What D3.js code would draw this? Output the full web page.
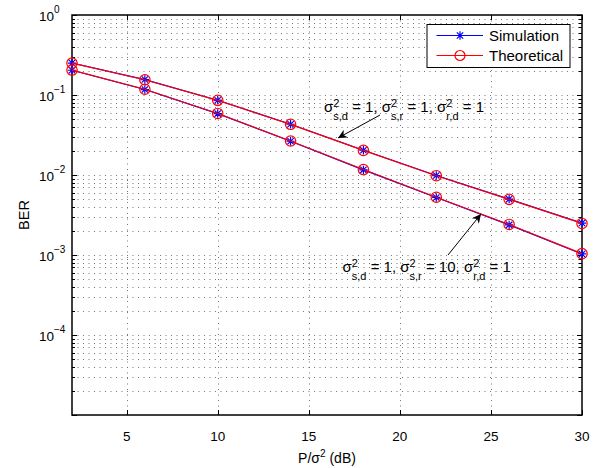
<!DOCTYPE html>
<html>
<head>
<meta charset="utf-8">
<script src="https://cdn.jsdelivr.net/npm/d3@7"></script>
<style>
  body { margin: 0; background: #fff; }
  text { font-family: "Liberation Sans", Arial, Helvetica, sans-serif; fill: #000; }
</style>
</head>
<body>
<div class="chart"></div>
<script>
// SNR points (dB)
const snr = [2, 6, 10, 14, 18, 22, 26, 30];

// sigma_sr^2 = 1
const simA = [0.251, 0.156, 0.0859, 0.0431, 0.0204, 0.00985, 0.00500, 0.00251];
const theoA = [0.250, 0.155, 0.0857, 0.0430, 0.0203, 0.00980, 0.00496, 0.00248];
// sigma_sr^2 = 10
const simB = [0.204, 0.117, 0.0586, 0.0264, 0.0116, 0.00524, 0.00238, 0.00103];
const theoB = [0.205, 0.118, 0.0588, 0.0266, 0.0117, 0.00527, 0.00241, 0.00104];

const xTicks = [5, 10, 15, 20, 25, 30];
const yExps = [0, -1, -2, -3, -4];

const margin = ({top: 15, right: 21, bottom: 53, left: 72});
const width = 603 - margin.left - margin.right;
const height = 468 - margin.top - margin.bottom;

const svg = d3.select('.chart').append('svg')
  .attr('width', 603)
  .attr('height', 468)
  .append('g')
  .attr('transform', `translate(${margin.left},${margin.top})`);

const xScale = d3.scaleLinear().domain([2, 30]).range([0, width]);
const yScale = d3.scaleLog().domain([1e-5, 1]).range([height, 0]);

// minor + major y values
let yMinor = [];
for (let e = -5; e < 0; e++) {
  for (let m = 1; m <= 9; m++) yMinor.push(m * Math.pow(10, e));
}
yMinor.push(1);

// grid
const grid = svg.append('g').attr('class', 'grid')
  .attr('stroke', '#666').attr('stroke-width', 0.9).attr('stroke-dasharray', '1,4.5');
grid.selectAll('.gy').data(yMinor.filter(d => d > 1e-5 && d < 1)).enter()
  .append('line')
  .attr('x1', 0).attr('x2', width)
  .attr('y1', d => Math.round(yScale(d)) + 0.5).attr('y2', d => Math.round(yScale(d)) + 0.5);
grid.selectAll('.gx').data(xTicks.filter(d => d < 30)).enter()
  .append('line')
  .attr('y1', 0).attr('y2', height)
  .attr('x1', d => Math.round(xScale(d)) + 0.5).attr('x2', d => Math.round(xScale(d)) + 0.5);

// ticks (inward, all four sides)
const ticks = svg.append('g').attr('stroke', '#000').attr('stroke-width', 1);
xTicks.forEach(t => {
  const x = Math.round(xScale(t)) + 0.5;
  ticks.append('line').attr('x1', x).attr('x2', x).attr('y1', height).attr('y2', height - 5);
  ticks.append('line').attr('x1', x).attr('x2', x).attr('y1', 0).attr('y2', 5);
});
yMinor.forEach(v => {
  const y = Math.round(yScale(v)) + 0.5;
  const major = Math.abs(Math.log10(v) - Math.round(Math.log10(v))) < 1e-9;
  const len = major ? 5 : 3;
  ticks.append('line').attr('x1', 0).attr('x2', len).attr('y1', y).attr('y2', y);
  ticks.append('line').attr('x1', width).attr('x2', width - len).attr('y1', y).attr('y2', y);
});

// axes box
svg.append('rect')
  .attr('x', 0).attr('y', 0).attr('width', width).attr('height', height)
  .attr('fill', 'none').attr('stroke', '#000').attr('stroke-width', 1.5);

// tick labels
svg.selectAll('.xl').data(xTicks).enter()
  .append('text')
  .attr('x', d => xScale(d))
  .attr('y', height + 26)
  .attr('text-anchor', 'middle')
  .attr('font-size', 13.5)
  .text(d => d);

const yl = svg.selectAll('.yl').data(yExps).enter()
  .append('text')
  .attr('x', -33)
  .attr('y', d => yScale(Math.pow(10, d)) + 6)
  .attr('font-size', 13.5);
yl.append('tspan').text('10');
yl.append('tspan').attr('dy', -8).attr('font-size', 10).text(d => d === 0 ? '0' : '\u2212' + (-d));

// axis titles
svg.append('text')
  .attr('transform', `translate(-43,${height / 2}) rotate(-90)`)
  .attr('text-anchor', 'middle')
  .attr('font-size', 14.5)
  .text('BER');

const xt = svg.append('text')
  .attr('x', width / 2)
  .attr('y', height + 48)
  .attr('text-anchor', 'middle')
  .attr('font-size', 14);
xt.append('tspan').text('P/\u03c3');
xt.append('tspan').attr('dy', -6).attr('font-size', 10).text('2');
xt.append('tspan').attr('dy', 6).text(' (dB)');

// curves
const line = d3.line()
  .x((d, i) => xScale(snr[i]))
  .y(d => yScale(d));

const star = d3.symbol().type({
  draw(ctx, size) {
    const r = 4.2, r2 = r * 0.75;
    ctx.moveTo(-r, 0); ctx.lineTo(r, 0);
    ctx.moveTo(0, -r); ctx.lineTo(0, r);
    ctx.moveTo(-r2, -r2); ctx.lineTo(r2, r2);
    ctx.moveTo(-r2, r2); ctx.lineTo(r2, -r2);
  }
});

function drawSeries(vals, color, kind) {
  svg.append('path')
    .datum(vals)
    .attr('fill', 'none')
    .attr('stroke', color)
    .attr('stroke-width', 1.2)
    .attr('d', line);
  const g = svg.append('g');
  vals.forEach((v, i) => {
    const cx = xScale(snr[i]), cy = yScale(v);
    if (kind === 'star') {
      g.append('path').attr('d', star()).attr('transform', `translate(${cx},${cy})`)
        .attr('stroke', color).attr('stroke-width', 1.2).attr('fill', 'none');
    } else {
      g.append('circle').attr('cx', cx).attr('cy', cy).attr('r', 5.2)
        .attr('stroke', color).attr('stroke-width', 1.2).attr('fill', 'none');
    }
  });
}

drawSeries(simA, '#0000ff', 'star');
drawSeries(simB, '#0000ff', 'star');
drawSeries(theoA, '#ff0000', 'circle');
drawSeries(theoB, '#ff0000', 'circle');

// annotations: sigma^2 with stacked sub/superscripts
function sigmaLabel(x, y, parts) {
  const t = svg.append('text').attr('x', x).attr('y', y).attr('font-size', 15);
  parts.forEach((p, i) => {
    t.append('tspan').text((i > 0 ? ', ' : '') + '\u03c3');
    t.append('tspan').attr('dy', -5).attr('font-size', 11).text('2');
    t.append('tspan').attr('dy', 12.5).attr('dx', -6.1).attr('font-size', 11).text(p[0]);
    t.append('tspan').attr('dy', -7.5).text(' = ' + p[1]);
  });
  return t;
}

sigmaLabel(252, 97, [['s,d', 1], ['s,r', 1], ['r,d', 1]]);
sigmaLabel(270.5, 257, [['s,d', 1], ['s,r', 10], ['r,d', 1]]);

svg.append('defs').append('marker')
  .attr('id', 'ah')
  .attr('viewBox', '0 0 10 10')
  .attr('refX', 10).attr('refY', 5)
  .attr('markerWidth', 14).attr('markerHeight', 9)
  .attr('markerUnits', 'userSpaceOnUse')
  .attr('orient', 'auto')
  .append('path').attr('d', 'M0,0 L10,5 L0,10 L3,5 Z').attr('fill', '#000');

svg.append('line')
  .attr('x1', 308).attr('y1', 100).attr('x2', 266).attr('y2', 123)
  .attr('stroke', '#000').attr('stroke-width', 1).attr('marker-end', 'url(#ah)');
svg.append('line')
  .attr('x1', 376).attr('y1', 240).attr('x2', 409).attr('y2', 199)
  .attr('stroke', '#000').attr('stroke-width', 1).attr('marker-end', 'url(#ah)');

// legend
const lg = svg.append('g').attr('transform', 'translate(355,9.5)');
lg.append('rect').attr('width', 143).attr('height', 43)
  .attr('fill', '#fff').attr('stroke', '#000').attr('stroke-width', 1);
const legendItems = [
  {name: 'Simulation', color: '#0000ff', kind: 'star'},
  {name: 'Theoretical', color: '#ff0000', kind: 'circle'}
];
legendItems.forEach((d, i) => {
  const y = 11 + i * 20;
  lg.append('line').attr('x1', 9.5).attr('x2', 56).attr('y1', y).attr('y2', y)
    .attr('stroke', d.color).attr('stroke-width', 1.2);
  if (d.kind === 'star') {
    lg.append('path').attr('d', star()).attr('transform', `translate(33,${y})`)
      .attr('stroke', d.color).attr('stroke-width', 1.2).attr('fill', 'none');
  } else {
    lg.append('circle').attr('cx', 33).attr('cy', y).attr('r', 5)
      .attr('stroke', d.color).attr('stroke-width', 1.2).attr('fill', 'none');
  }
  lg.append('text').attr('x', 62).attr('y', y + 5.5).attr('font-size', 15).text(d.name);
});
</script>
</body>
</html>
